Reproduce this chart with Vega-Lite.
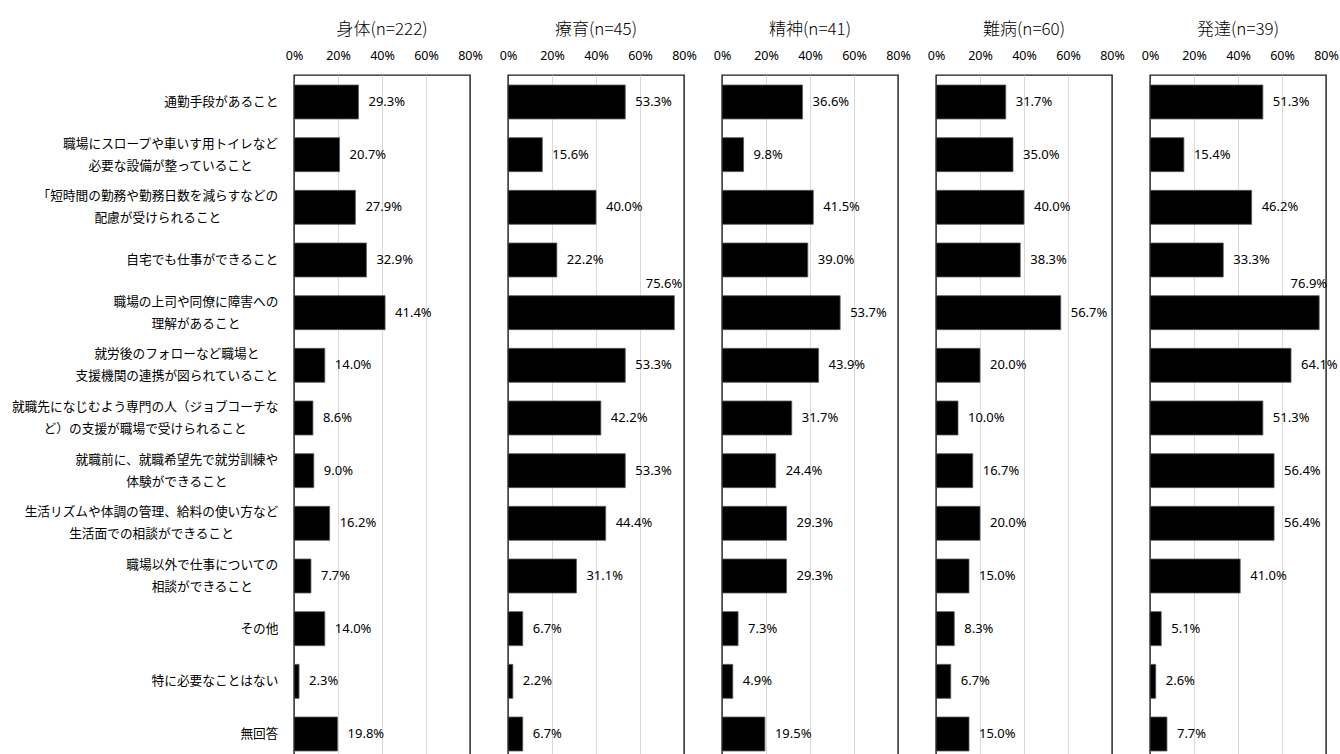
{
  "$schema": "https://vega.github.io/schema/vega-lite/v6.json",
  "background": "white",
  "padding": {"left": 11, "top": 21, "right": 5, "bottom": 0},
  "bounds": "flush",
  "datasets": {
    "d": [
      {"g": "身体(n=222)", "c": "通勤手段があること", "v": 0.293},
      {"g": "身体(n=222)", "c": "職場にスロープや車いす用トイレなど|必要な設備が整っていること", "v": 0.207},
      {"g": "身体(n=222)", "c": "「短時間の勤務や勤務日数を減らすなどの|配慮が受けられること", "v": 0.279},
      {"g": "身体(n=222)", "c": "自宅でも仕事ができること", "v": 0.329},
      {"g": "身体(n=222)", "c": "職場の上司や同僚に障害への|理解があること", "v": 0.414},
      {"g": "身体(n=222)", "c": "就労後のフォローなど職場と|支援機関の連携が図られていること", "v": 0.140},
      {"g": "身体(n=222)", "c": "就職先になじむよう専門の人（ジョブコーチな|ど）の支援が職場で受けられること", "v": 0.086},
      {"g": "身体(n=222)", "c": "就職前に、就職希望先で就労訓練や|体験ができること", "v": 0.090},
      {"g": "身体(n=222)", "c": "生活リズムや体調の管理、給料の使い方など|生活面での相談ができること", "v": 0.162},
      {"g": "身体(n=222)", "c": "職場以外で仕事についての|相談ができること", "v": 0.077},
      {"g": "身体(n=222)", "c": "その他", "v": 0.140},
      {"g": "身体(n=222)", "c": "特に必要なことはない", "v": 0.023},
      {"g": "身体(n=222)", "c": "無回答", "v": 0.198},
      {"g": "療育(n=45)", "c": "通勤手段があること", "v": 0.533},
      {"g": "療育(n=45)", "c": "職場にスロープや車いす用トイレなど|必要な設備が整っていること", "v": 0.156},
      {"g": "療育(n=45)", "c": "「短時間の勤務や勤務日数を減らすなどの|配慮が受けられること", "v": 0.400},
      {"g": "療育(n=45)", "c": "自宅でも仕事ができること", "v": 0.222},
      {"g": "療育(n=45)", "c": "職場の上司や同僚に障害への|理解があること", "v": 0.756},
      {"g": "療育(n=45)", "c": "就労後のフォローなど職場と|支援機関の連携が図られていること", "v": 0.533},
      {"g": "療育(n=45)", "c": "就職先になじむよう専門の人（ジョブコーチな|ど）の支援が職場で受けられること", "v": 0.422},
      {"g": "療育(n=45)", "c": "就職前に、就職希望先で就労訓練や|体験ができること", "v": 0.533},
      {"g": "療育(n=45)", "c": "生活リズムや体調の管理、給料の使い方など|生活面での相談ができること", "v": 0.444},
      {"g": "療育(n=45)", "c": "職場以外で仕事についての|相談ができること", "v": 0.311},
      {"g": "療育(n=45)", "c": "その他", "v": 0.067},
      {"g": "療育(n=45)", "c": "特に必要なことはない", "v": 0.022},
      {"g": "療育(n=45)", "c": "無回答", "v": 0.067},
      {"g": "精神(n=41)", "c": "通勤手段があること", "v": 0.366},
      {"g": "精神(n=41)", "c": "職場にスロープや車いす用トイレなど|必要な設備が整っていること", "v": 0.098},
      {"g": "精神(n=41)", "c": "「短時間の勤務や勤務日数を減らすなどの|配慮が受けられること", "v": 0.415},
      {"g": "精神(n=41)", "c": "自宅でも仕事ができること", "v": 0.390},
      {"g": "精神(n=41)", "c": "職場の上司や同僚に障害への|理解があること", "v": 0.537},
      {"g": "精神(n=41)", "c": "就労後のフォローなど職場と|支援機関の連携が図られていること", "v": 0.439},
      {"g": "精神(n=41)", "c": "就職先になじむよう専門の人（ジョブコーチな|ど）の支援が職場で受けられること", "v": 0.317},
      {"g": "精神(n=41)", "c": "就職前に、就職希望先で就労訓練や|体験ができること", "v": 0.244},
      {"g": "精神(n=41)", "c": "生活リズムや体調の管理、給料の使い方など|生活面での相談ができること", "v": 0.293},
      {"g": "精神(n=41)", "c": "職場以外で仕事についての|相談ができること", "v": 0.293},
      {"g": "精神(n=41)", "c": "その他", "v": 0.073},
      {"g": "精神(n=41)", "c": "特に必要なことはない", "v": 0.049},
      {"g": "精神(n=41)", "c": "無回答", "v": 0.195},
      {"g": "難病(n=60)", "c": "通勤手段があること", "v": 0.317},
      {"g": "難病(n=60)", "c": "職場にスロープや車いす用トイレなど|必要な設備が整っていること", "v": 0.350},
      {"g": "難病(n=60)", "c": "「短時間の勤務や勤務日数を減らすなどの|配慮が受けられること", "v": 0.400},
      {"g": "難病(n=60)", "c": "自宅でも仕事ができること", "v": 0.383},
      {"g": "難病(n=60)", "c": "職場の上司や同僚に障害への|理解があること", "v": 0.567},
      {"g": "難病(n=60)", "c": "就労後のフォローなど職場と|支援機関の連携が図られていること", "v": 0.200},
      {"g": "難病(n=60)", "c": "就職先になじむよう専門の人（ジョブコーチな|ど）の支援が職場で受けられること", "v": 0.100},
      {"g": "難病(n=60)", "c": "就職前に、就職希望先で就労訓練や|体験ができること", "v": 0.167},
      {"g": "難病(n=60)", "c": "生活リズムや体調の管理、給料の使い方など|生活面での相談ができること", "v": 0.200},
      {"g": "難病(n=60)", "c": "職場以外で仕事についての|相談ができること", "v": 0.150},
      {"g": "難病(n=60)", "c": "その他", "v": 0.083},
      {"g": "難病(n=60)", "c": "特に必要なことはない", "v": 0.067},
      {"g": "難病(n=60)", "c": "無回答", "v": 0.150},
      {"g": "発達(n=39)", "c": "通勤手段があること", "v": 0.513},
      {"g": "発達(n=39)", "c": "職場にスロープや車いす用トイレなど|必要な設備が整っていること", "v": 0.154},
      {"g": "発達(n=39)", "c": "「短時間の勤務や勤務日数を減らすなどの|配慮が受けられること", "v": 0.462},
      {"g": "発達(n=39)", "c": "自宅でも仕事ができること", "v": 0.333},
      {"g": "発達(n=39)", "c": "職場の上司や同僚に障害への|理解があること", "v": 0.769},
      {"g": "発達(n=39)", "c": "就労後のフォローなど職場と|支援機関の連携が図られていること", "v": 0.641},
      {"g": "発達(n=39)", "c": "就職先になじむよう専門の人（ジョブコーチな|ど）の支援が職場で受けられること", "v": 0.513},
      {"g": "発達(n=39)", "c": "就職前に、就職希望先で就労訓練や|体験ができること", "v": 0.564},
      {"g": "発達(n=39)", "c": "生活リズムや体調の管理、給料の使い方など|生活面での相談ができること", "v": 0.564},
      {"g": "発達(n=39)", "c": "職場以外で仕事についての|相談ができること", "v": 0.410},
      {"g": "発達(n=39)", "c": "その他", "v": 0.051},
      {"g": "発達(n=39)", "c": "特に必要なことはない", "v": 0.026},
      {"g": "発達(n=39)", "c": "無回答", "v": 0.077}
    ]
  },
  "data": {"name": "d"},
  "facet": {
    "column": {
      "field": "g",
      "type": "nominal",
      "sort": ["身体(n=222)", "療育(n=45)", "精神(n=41)", "難病(n=60)", "発達(n=39)"],
      "header": {
        "title": null,
        "labelOrient": "top",
        "labelFont": "Noto Sans CJK JP",
        "labelFontSize": 17,
        "labelFontWeight": 300,
        "labelColor": "#000000",
        "labelPadding": 10
      }
    }
  },
  "spacing": 38,
  "spec": {
    "width": 176,
    "height": 686,
    "encoding": {
      "y": {
        "field": "c",
        "type": "nominal",
        "sort": null,
        "scale": {"paddingInner": 0.355, "paddingOuter": 0.19},
        "axis": {
          "title": null,
          "orient": "left",
          "domain": false,
          "ticks": false,
          "tickSize": 0,
          "labelFont": "Noto Sans CJK JP",
          "labelFontSize": 12.7,
          "labelFontWeight": "normal",
          "labelColor": "#000000",
          "labelAlign": "center",
          "labelBaseline": "middle",
          "labelLineHeight": 22,
          "labelLimit": 500,
          "labelExpr": "split(datum.label, '|')",
          "labelOffset": {"expr": "length(split(datum.label, '|')) > 1 ? -11 : 0"},
          "labelPadding": {"expr": "16 + 6.35 * max(length(split(datum.label, '|')[0]), length(peek(split(datum.label, '|'))))"}
        }
      },
      "x": {
        "field": "v",
        "type": "quantitative",
        "scale": {"domain": [0, 0.8]},
        "axis": {
          "title": null,
          "orient": "top",
          "format": ".0%",
          "values": [0, 0.2, 0.4, 0.6, 0.8],
          "domain": false,
          "ticks": false,
          "tickSize": 0,
          "labelPadding": 13,
          "labelFlush": false,
          "labelFont": "Noto Sans",
          "labelFontSize": 12.5,
          "labelFontWeight": "normal",
          "labelColor": "#000000",
          "grid": true,
          "gridColor": {"condition": {"test": "datum.value == 0 || datum.value == 0.8", "value": "transparent"}, "value": "#d9d9d9"},
          "gridWidth": 1
        }
      }
    },
    "layer": [
      {
        "mark": {"type": "bar", "color": "#000000", "stroke": "#595959", "strokeWidth": 0.8}
      },
      {
        "transform": [{"filter": "datum.v < 0.7"}],
        "mark": {"type": "text", "align": "left", "baseline": "middle", "dx": 10, "font": "Noto Sans", "fontSize": 13, "color": "#000000"},
        "encoding": {"text": {"field": "v", "type": "quantitative", "format": ".1%"}}
      },
      {
        "transform": [{"filter": "datum.v >= 0.7"}],
        "mark": {"type": "text", "align": "right", "baseline": "middle", "dx": 8, "dy": -29, "font": "Noto Sans", "fontSize": 13, "color": "#000000"},
        "encoding": {"text": {"field": "v", "type": "quantitative", "format": ".1%"}}
      }
    ]
  },
  "config": {
    "view": {"stroke": "#1a1a1a", "strokeWidth": 1.4}
  }
}
